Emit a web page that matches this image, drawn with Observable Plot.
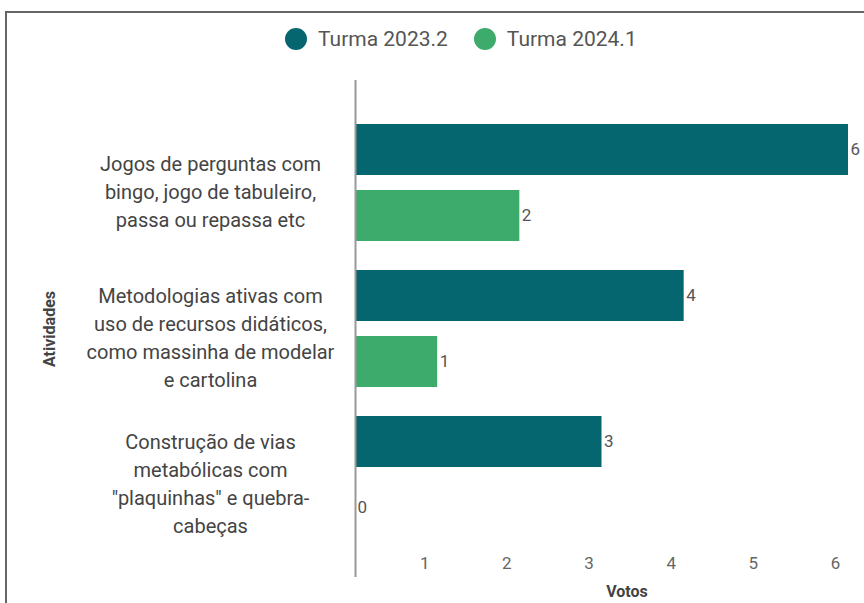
<!DOCTYPE html>
<html>
<head>
<meta charset="utf-8">
<script src="https://cdn.jsdelivr.net/npm/d3@7"></script>
<script src="https://cdn.jsdelivr.net/npm/@observablehq/plot@0.6"></script>
<style>
  html, body { margin: 0; padding: 0; background: #fff; }
  #wrap { position: relative; width: 864px; height: 603px; overflow: hidden; font-family: Roboto, "Noto Sans", sans-serif; }
  #border { position: absolute; left: 5px; top: 11px; width: 1000px; height: 1000px; border-left: 2px solid #666; border-top: 2px solid #666; }
  #chart { position: absolute; left: 0; top: 0; }
  #legend { position: absolute; top: 27px; left: 285px; display: flex; align-items: center; font-size: 21px; color: #555; line-height: 24px; }
  .item { display: flex; align-items: center; }
  .item + .item { margin-left: 26px; }
  .sw { width: 22px; height: 22px; border-radius: 50%; display: inline-block; margin-right: 11px; }
  #xlabel { position: absolute; top: 582px; left: 597px; width: 60px; text-align: center; font-size: 16px; line-height: 19px; font-weight: bold; color: #444; }
</style>
</head>
<body>
<div id="wrap">
  <div id="border"></div>
  <div id="chart"></div>
  <div id="legend"></div>
  <div id="xlabel">Votos</div>
</div>
<script>
const activities = [
  "Jogos de perguntas com bingo, jogo de tabuleiro, passa ou repassa etc",
  "Metodologias ativas com uso de recursos didáticos, como massinha de modelar e cartolina",
  "Construção de vias metabólicas com \"plaquinhas\" e quebra-cabeças"
];
const activityLines = [
  "Jogos de perguntas com\nbingo, jogo de tabuleiro,\npassa ou repassa etc",
  "Metodologias ativas com\nuso de recursos didáticos,\ncomo massinha de modelar\ne cartolina",
  "Construção de vias\nmetabólicas com\n\"plaquinhas\" e quebra-\ncabeças"
];
const series = ["Turma 2023.2", "Turma 2024.1"];
const colors = ["#05666f", "#3dab6c"];
const turma2023 = [6, 4, 3];
const turma2024 = [2, 1, 0];
const xTicks = [1, 2, 3, 4, 5, 6];

const rows2023 = activities.map((a, i) => ({activity: a, series: series[0], value: turma2023[i]}));
const rows2024 = activities.map((a, i) => ({activity: a, series: series[1], value: turma2024[i]}));
const labelOf = new Map(activities.map((a, i) => [a, activityLines[i]]));

const chart = Plot.plot({
  width: 864,
  height: 603,
  marginLeft: 355,
  marginRight: 16,
  marginTop: 80,
  marginBottom: 26,
  style: {fontFamily: "Roboto, sans-serif", background: "transparent"},
  x: {domain: [0, 6]},
  y: {domain: activities, paddingInner: 0.2, paddingOuter: 0.302},
  color: {domain: series, range: colors},
  marks: [
    Plot.barX(rows2023, {y: "activity", x: "value", fill: "series", insetBottom: 66}),
    Plot.barX(rows2024, {y: "activity", x: "value", fill: "series", insetTop: 66}),
    Plot.text(rows2023, {y: "activity", x: "value", text: d => String(d.value), dy: -33, dx: 2, textAnchor: "start", fontSize: 17, fill: "#555"}),
    Plot.text(rows2024, {y: "activity", x: "value", text: d => String(d.value), dy: 33, dx: 2, textAnchor: "start", fontSize: 17, fill: "#555"}),
    Plot.ruleX([0], {stroke: "#999", strokeWidth: 2}),
    Plot.axisX({ticks: xTicks, tickFormat: d => String(d), tickSize: 0, tickPadding: -21, dx: -13, fontSize: 17, fill: "#666", label: null}),
    Plot.axisY({tickSize: 0, tickPadding: 145, textAnchor: "middle", lineHeight: 1.4, fontSize: 20, fill: "#444",
      tickFormat: d => labelOf.get(d), dy: 7,
      label: null}),
    Plot.axisY({ticks: [], tickSize: 0, label: "Atividades", labelAnchor: "center", labelOffset: 312, fontSize: 16, fontWeight: "bold", fill: "#444"})
  ]
});
document.getElementById("chart").appendChild(chart);

const legend = document.getElementById("legend");
series.forEach((s, i) => {
  const item = document.createElement("div");
  item.className = "item";
  const sw = document.createElement("span");
  sw.className = "sw";
  sw.style.background = colors[i];
  const t = document.createElement("span");
  t.textContent = s;
  item.appendChild(sw);
  item.appendChild(t);
  legend.appendChild(item);
});
</script>
</body>
</html>
